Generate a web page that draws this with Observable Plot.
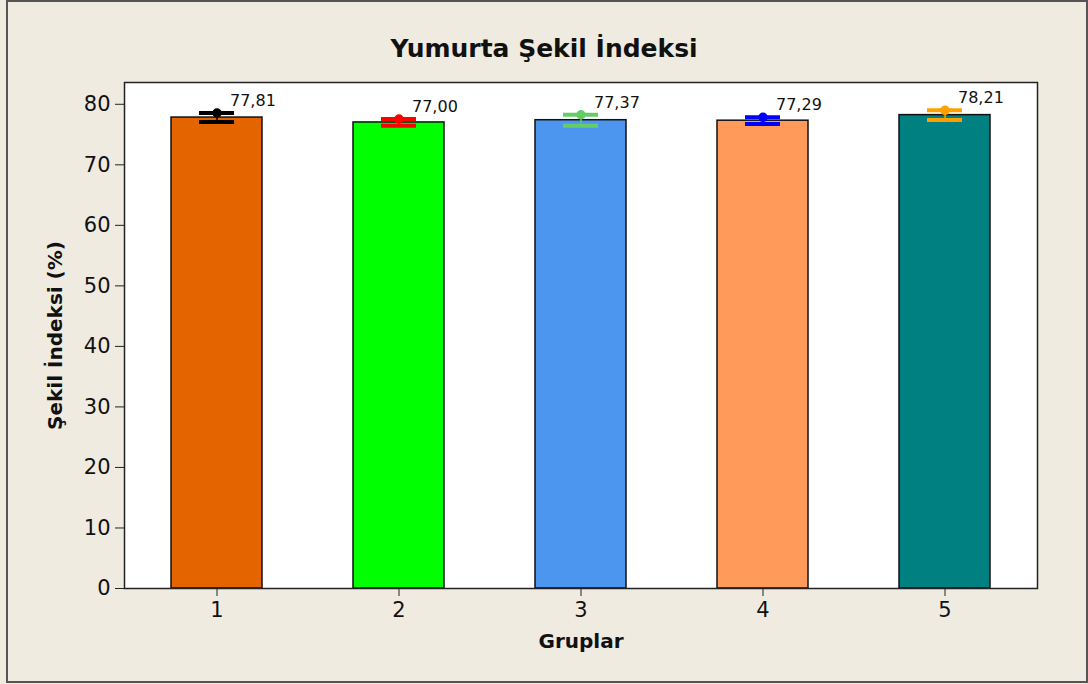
<!DOCTYPE html>
<html>
<head>
<meta charset="utf-8">
<script src="https://cdn.jsdelivr.net/npm/d3@7"></script>
<script src="https://cdn.jsdelivr.net/npm/@observablehq/plot@0.6"></script>
<style>
  html, body { margin: 0; padding: 0; background: #ffffff; }
  #wrap { position: relative; width: 1088px; height: 684px; background: #EFEBE1; font-family: "DejaVu Sans", Verdana, sans-serif; }
  #border { position: absolute; left: 6px; top: 0px; width: 1078px; height: 679px; border: 2px solid #555; box-sizing: content-box; pointer-events: none; }
  #title { position: absolute; left: 0; width: 1088px; top: 34px; text-align: center; font-size: 25px; font-weight: bold; color: #111; line-height: 30px; }
  #chart { position: absolute; left: 0; top: 0; }
</style>
</head>
<body>
<div id="wrap">
  <div id="chart"></div>
  <div id="title">Yumurta Şekil İndeksi</div>
  <div id="border"></div>
</div>
<script>
const groups = ["1", "2", "3", "4", "5"];
const means = [77.81, 77.00, 77.37, 77.29, 78.21];
const errors = [0.75, 0.55, 0.9, 0.55, 0.8];
const barColors = ["#E46500", "#00FF00", "#4C96F0", "#FF9A5A", "#008080"];
const errColors = ["#000000", "#FF0000", "#66CC66", "#0000FF", "#FFA000"];
const yTicks = [0, 10, 20, 30, 40, 50, 60, 70, 80];

const data = groups.map((g, i) => ({
  g, mean: means[i], lo: means[i] - errors[i], hi: means[i] + errors[i],
  bar: barColors[i], err: errColors[i],
  label: means[i].toFixed(2).replace(".", ",")
}));

const chart = Plot.plot({
  width: 1088,
  height: 684,
  marginLeft: 124,
  marginRight: 51,
  marginTop: 82,
  marginBottom: 96,
  style: { background: "transparent", fontFamily: "DejaVu Sans, Verdana, sans-serif", color: "#111" },
  x: { domain: groups, paddingInner: 0.5, paddingOuter: 0.25, align: 0.5, label: null },
  y: { domain: [0, 83.6], label: null },
  marks: [
    Plot.frame({ fill: "white" }),
    Plot.barY(data, { x: "g", y: "mean", fill: "bar", stroke: "#111", strokeWidth: 1.5 }),
    Plot.ruleX(data, { x: "g", y1: "lo", y2: "hi", stroke: "err", strokeWidth: 1.5 }),
    Plot.tickY(data, { x: "g", y: "lo", stroke: "err", strokeWidth: 4, insetLeft: 28, insetRight: 28 }),
    Plot.tickY(data, { x: "g", y: "hi", stroke: "err", strokeWidth: 4, insetLeft: 28, insetRight: 28 }),
    Plot.dot(data, { x: "g", y: "hi", r: 4, fill: "err", stroke: "err" }),
    Plot.ruleY(data, { x: "g", y: "mean", stroke: "err", strokeWidth: 1 }),
    Plot.text(data, { x: "g", y: "hi", text: "label", textAnchor: "start", dx: 13, dy: -12, fontSize: 16, fill: "#111" }),
    Plot.frame({ stroke: "#222", strokeWidth: 1.5 }),
    Plot.axisY({ ticks: yTicks, tickSize: 9, tickPadding: 5, fontSize: 21, label: null, stroke: "#222" }),
    Plot.axisX({ tickSize: 8, tickPadding: 6, fontSize: 21, label: null, stroke: "#222" }),
    Plot.text(["Gruplar"], { frameAnchor: "bottom", dy: 59, fontSize: 20, fontWeight: "bold", fill: "#111" }),
    Plot.text(["Şekil İndeksi (%)"], { frameAnchor: "left", textAnchor: "middle", dx: -69, rotate: -90, fontSize: 20, fontWeight: "bold", fill: "#111" })
  ]
});
document.getElementById("chart").appendChild(chart);
</script>
</body>
</html>
